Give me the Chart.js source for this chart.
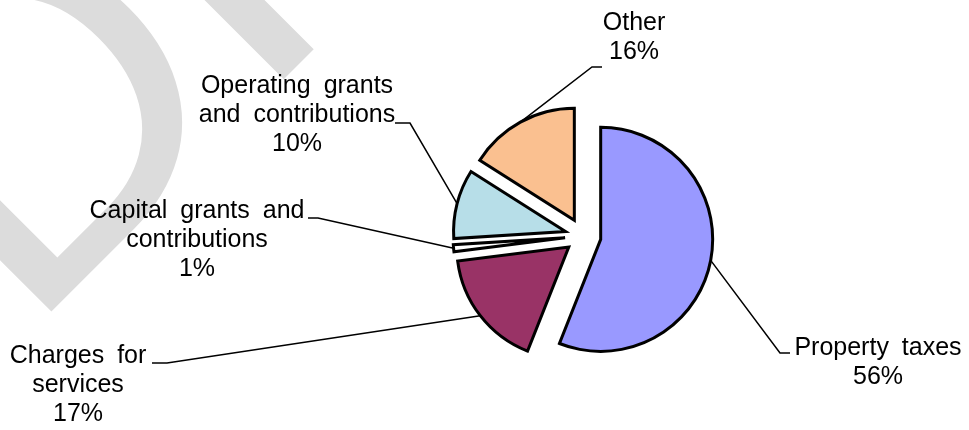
<!DOCTYPE html>
<html>
<head>
<meta charset="utf-8">
<script src="https://cdn.jsdelivr.net/npm/chart.js@4.4.1/dist/chart.umd.min.js"></script>
<style>
html, body { margin: 0; padding: 0; background: #fff; }
#wrap { position: relative; width: 969px; height: 430px; }
</style>
</head>
<body>
<div id="wrap"><canvas id="revenueChart"></canvas></div>
<script>
// categories and shares (%)
const categories = [
    'Property taxes',
    'Charges for services',
    'Capital grants and contributions',
    'Operating grants and contributions',
    'Other'
];
const shares = [56, 17, 1, 10, 16];

// how each label wraps on the picture
const labelLines = [
    ['Property taxes'],
    ['Charges for', 'services'],
    ['Capital grants and', 'contributions'],
    ['Operating grants', 'and contributions'],
    ['Other']
];

const sliceColors = ['#9999FF', '#993366', '#FFFFFF', '#B7DEE8', '#FAC090'];

// label placement (text centre / first baseline, leader elbow, leader tick end)
const labelLayout = [
    { x: 878, y: 355, elbow: [780, 353], end: [790, 353] },
    { x: 78,  y: 363, elbow: [167, 363], end: [152, 363] },
    { x: 197, y: 218, elbow: [318, 218], end: [308, 218] },
    { x: 297, y: 93,  elbow: [410, 123], end: [395, 123] },
    { x: 634, y: 30,  elbow: [592, 67],  end: [602, 67] }
];

const explode = 18;     // px every slice is pulled out
const pieRadius = 112;
const lineGap = 29;
const labelFont = '25px "Liberation Sans", Arial, sans-serif';

// pull every slice out by the same distance (Chart.js offset also grows the radius)
const explodeSlices = {
    id: 'explodeSlices',
    afterUpdate(chart) {
        chart.getDatasetMeta(0).data.forEach(arc => {
            if (arc._exploded) return;
            const baseDraw = arc.draw;
            arc.draw = function (ctx, area) {
                const mid = (this.startAngle + this.endAngle) / 2;
                ctx.save();
                ctx.translate(Math.cos(mid) * explode, Math.sin(mid) * explode);
                baseDraw.call(this, ctx, area);
                ctx.restore();
            };
            arc._exploded = true;
        });
    }
};

// the grey DRAFT watermark behind the chart
const watermark = {
    id: 'watermark',
    beforeDraw(chart) {
        const ctx = chart.ctx;
        ctx.save();
        ctx.translate(25, 338);
        ctx.rotate(-Math.PI / 4);
        ctx.fillStyle = '#dcdcdc';
        ctx.font = '455px "Liberation Sans", Arial, sans-serif';
        ctx.textBaseline = 'alphabetic';
        ctx.fillText('DRAFT', 0, 0);
        ctx.restore();
    }
};

// leader lines and data labels
const leaders = {
    id: 'leaders',
    afterDatasetsDraw(chart) {
        const ctx = chart.ctx;
        const arcs = chart.getDatasetMeta(0).data;
        ctx.save();
        ctx.strokeStyle = '#000';
        ctx.lineWidth = 1.5;
        ctx.fillStyle = '#000';
        ctx.font = labelFont;
        ctx.textAlign = 'center';
        ctx.textBaseline = 'alphabetic';
        try { ctx.wordSpacing = '6px'; } catch (e) {}
        arcs.forEach((arc, i) => {
            const mid = (arc.startAngle + arc.endAngle) / 2;
            const r = arc.outerRadius + explode;
            const sx = arc.x + Math.cos(mid) * r;
            const sy = arc.y + Math.sin(mid) * r;
            const lay = labelLayout[i];
            ctx.beginPath();
            ctx.moveTo(sx, sy);
            ctx.lineTo(lay.elbow[0], lay.elbow[1]);
            ctx.lineTo(lay.end[0], lay.end[1]);
            ctx.stroke();
            const lines = labelLines[i].concat([shares[i] + '%']);
            lines.forEach((t, k) => ctx.fillText(t, lay.x, lay.y + k * lineGap));
        });
        ctx.restore();
    }
};

new Chart(document.getElementById('revenueChart'), {
    type: 'pie',
    data: {
        labels: categories,
        datasets: [{
            data: shares,
            backgroundColor: sliceColors,
            borderColor: '#000',
            borderWidth: 3,
            borderJoinStyle: 'miter',
            offset: 0,
            hoverOffset: 0,
            radius: pieRadius,
            clip: false
        }]
    },
    options: {
        responsive: true,
        maintainAspectRatio: false,
        animation: false,
        events: [],
        layout: { padding: { left: 197, right: 0, top: 42, bottom: 0 } },
        plugins: {
            legend: { display: false },
            tooltip: { enabled: false }
        }
    },
    plugins: [watermark, explodeSlices, leaders]
});
</script>
</body>
</html>
